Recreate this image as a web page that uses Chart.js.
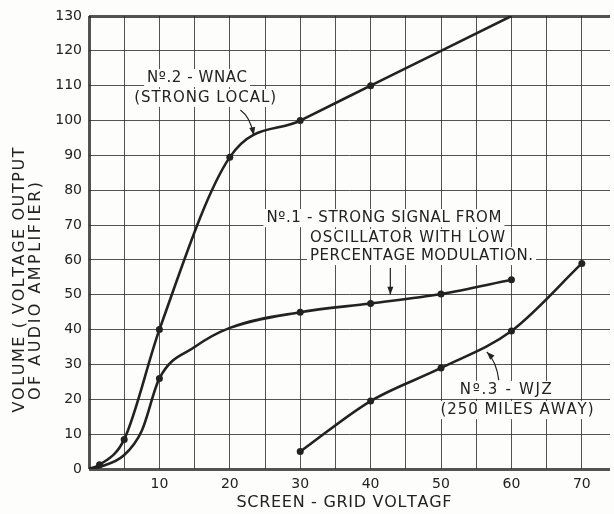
<!DOCTYPE html>
<html>
<head>
<meta charset="utf-8">
<script src="https://cdn.jsdelivr.net/npm/chart.js@4.4.0/dist/chart.umd.min.js"></script>
<style>
  html, body { margin: 0; padding: 0; background: #fdfdfb; }
  #wrap { width: 614px; height: 514px; position: relative; }
</style>
</head>
<body>
<div id="wrap"><canvas id="chart"></canvas></div>
<script>
// No. 2 - WNAC (strong local)
const wnacX = [0, 1.5, 5, 10, 20, 30, 40, 60];
const wnacY = [0, 1.2, 8.5, 40, 89.5, 100, 110, 130];
const wnacDots = [1.5, 5, 10, 20, 30, 40];

// No. 1 - strong signal from oscillator
const oscX = [0, 1.5, 5, 7.5, 10, 15, 20, 30, 40, 50, 60];
const oscY = [0, 0.6, 4, 11, 26, 35, 40.5, 45, 47.5, 50.2, 54.3];
const oscDots = [10, 30, 40, 50, 60];

// No. 3 - WJZ (250 miles away)
const wjzX = [30, 40, 50, 60, 70];
const wjzY = [5, 19.5, 29, 39.6, 59];
const wjzDots = [30, 40, 50, 60, 70];

const xGridValues = [0, 5, 10, 15, 20, 25, 30, 35, 40, 45, 50, 55, 60, 65, 70];
const yGridValues = [0, 10, 20, 30, 40, 50, 60, 70, 80, 90, 100, 110, 120, 130];
const xTickLabels = [10, 20, 30, 40, 50, 60, 70];
const yTickLabels = [0, 10, 20, 30, 40, 50, 60, 70, 80, 90, 100, 110, 120, 130];

const xTitle = 'SCREEN - GRID VOLTAGF';
const yTitle = ['VOLUME ( VOLTAGE OUTPUT', 'OF AUDIO AMPLIFIER)'];

const INK = '#222';
const PAPER = '#fdfdfb';
const FONT = '"DejaVu Sans", sans-serif';

function toPoints(xs, ys) {
  return xs.map((x, i) => ({x: x, y: ys[i]}));
}

function dotRadius(xs, dots) {
  return xs.map(x => dots.includes(x) ? 3.5 : 0);
}

function series(label, xs, ys, dots) {
  return {
    label: label,
    data: toPoints(xs, ys),
    borderColor: INK,
    backgroundColor: INK,
    borderWidth: 2.6,
    pointRadius: dotRadius(xs, dots),
    pointBorderWidth: 0,
    pointBackgroundColor: INK,
    cubicInterpolationMode: 'monotone',
    fill: false
  };
}

// labels drawn inside the plot, positions in data units
const notes = [
  {text: 'Nº.2 - WNAC', x: 15.35, y: 112.2, w: 100, align: 'center'},
  {text: '(STRONG LOCAL)', x: 16.5, y: 106.5, w: 142, align: 'center'},
  {text: 'Nº.1 - STRONG SIGNAL FROM', x: 25.2, y: 72.0, w: 235, align: 'left'},
  {text: 'OSCILLATOR WITH LOW', x: 31.4, y: 66.3, w: 195, align: 'left'},
  {text: 'PERCENTAGE MODULATION.', x: 31.4, y: 61.1, w: 223, align: 'left'},
  {text: 'Nº.3 - WJZ', x: 59.2, y: 22.7, w: 92, align: 'center'},
  {text: '(250 MILES AWAY)', x: 60.8, y: 16.9, w: 153, align: 'center'}
];

const arrows = [
  {from: [21.5, 103.0], ctrl: [22.9, 101.0], to: [23.4, 95.8]},
  {from: [42.8, 57.7], ctrl: [42.8, 54], to: [42.8, 50.0]},
  {from: [58.2, 25.5], ctrl: [57.9, 30.7], to: [56.5, 33.6]}
];

function spacedText(ctx, text, x, y, width, align, bg) {
  const chars = [...text];
  const natural = chars.reduce((s, c) => s + ctx.measureText(c).width, 0);
  const gap = chars.length > 1 ? (width - natural) / (chars.length - 1) : 0;
  let start = align === 'center' ? x - width / 2 : x;
  if (bg) {
    ctx.fillStyle = bg;
    ctx.fillRect(start - 3, y - 9, width + 6, 18);
  }
  ctx.fillStyle = INK;
  ctx.textAlign = 'left';
  ctx.textBaseline = 'middle';
  for (const c of chars) {
    ctx.fillText(c, start, y);
    start += ctx.measureText(c).width + gap;
  }
}

const notesPlugin = {
  id: 'notes',
  beforeDatasetsDraw(chart) {
    const {ctx, scales: {x, y}} = chart;
    ctx.save();
    ctx.font = '15px ' + FONT;
    notes.forEach(n => {
      spacedText(ctx, n.text, x.getPixelForValue(n.x), y.getPixelForValue(n.y), n.w, n.align, PAPER);
    });

    ctx.strokeStyle = INK;
    ctx.fillStyle = INK;
    ctx.lineWidth = 1.2;
    arrows.forEach(a => {
      const p0 = [x.getPixelForValue(a.from[0]), y.getPixelForValue(a.from[1])];
      const pc = [x.getPixelForValue(a.ctrl[0]), y.getPixelForValue(a.ctrl[1])];
      const p1 = [x.getPixelForValue(a.to[0]), y.getPixelForValue(a.to[1])];
      ctx.beginPath();
      ctx.moveTo(p0[0], p0[1]);
      ctx.quadraticCurveTo(pc[0], pc[1], p1[0], p1[1]);
      ctx.stroke();
      const ang = Math.atan2(p1[1] - pc[1], p1[0] - pc[0]);
      ctx.beginPath();
      ctx.moveTo(p1[0], p1[1]);
      ctx.lineTo(p1[0] - 8 * Math.cos(ang) + 3 * Math.sin(ang), p1[1] - 8 * Math.sin(ang) - 3 * Math.cos(ang));
      ctx.lineTo(p1[0] - 8 * Math.cos(ang) - 3 * Math.sin(ang), p1[1] - 8 * Math.sin(ang) + 3 * Math.cos(ang));
      ctx.closePath();
      ctx.fill();
    });
    ctx.restore();
  },
  afterDraw(chart) {
    const ctx = chart.ctx;
    ctx.save();
    ctx.font = '16px ' + FONT;
    spacedText(ctx, xTitle, 344, 503, 215, 'center');
    ctx.rotate(-Math.PI / 2);
    spacedText(ctx, yTitle[0], -280, 20, 265, 'center');
    spacedText(ctx, yTitle[1], -291, 36, 218, 'center');
    ctx.restore();
  }
};

const bgPlugin = {
  id: 'bg',
  beforeDraw(chart) {
    const ctx = chart.ctx;
    ctx.save();
    ctx.fillStyle = PAPER;
    ctx.fillRect(0, 0, chart.width, chart.height);
    ctx.restore();
  }
};

new Chart(document.getElementById('chart'), {
  type: 'line',
  data: {
    datasets: [
      series('Nº.2 - WNAC', wnacX, wnacY, wnacDots),
      series('Nº.1 - STRONG SIGNAL', oscX, oscY, oscDots),
      series('Nº.3 - WJZ', wjzX, wjzY, wjzDots)
    ]
  },
  options: {
    responsive: true,
    maintainAspectRatio: false,
    animation: false,
    layout: {padding: {top: 16, right: 0, bottom: 0, left: 0}},
    plugins: {
      legend: {display: false},
      tooltip: {enabled: false}
    },
    scales: {
      x: {
        type: 'linear',
        min: 0,
        max: 74,
        afterBuildTicks: scale => { scale.ticks = xGridValues.map(v => ({value: v})); },
        afterFit: scale => { scale.height = 45; },
        grid: {
          color: 'rgba(40,40,40,0.8)',
          lineWidth: ctx => ctx.tick && ctx.tick.value === 0 ? 3 : 1,
          drawTicks: false
        },
        border: {display: false},
        ticks: {
          padding: 7,
          color: INK,
          font: {family: FONT, size: 14},
          maxRotation: 0,
          autoSkip: false,
          callback: v => xTickLabels.includes(v) ? String(v) : ''
        }
      },
      y: {
        type: 'linear',
        min: 0,
        max: 130,
        afterBuildTicks: scale => { scale.ticks = yGridValues.map(v => ({value: v})); },
        afterFit: scale => { scale.width = 89; },
        grid: {
          color: 'rgba(40,40,40,0.8)',
          lineWidth: ctx => ctx.tick && (ctx.tick.value === 0 || ctx.tick.value === 130) ? 3 : 1,
          drawTicks: false
        },
        border: {display: false},
        ticks: {
          padding: 7,
          color: INK,
          font: {family: FONT, size: 14},
          autoSkip: false,
          callback: v => yTickLabels.includes(v) ? String(v) : ''
        }
      }
    }
  },
  plugins: [bgPlugin, notesPlugin]
});
</script>
</body>
</html>
